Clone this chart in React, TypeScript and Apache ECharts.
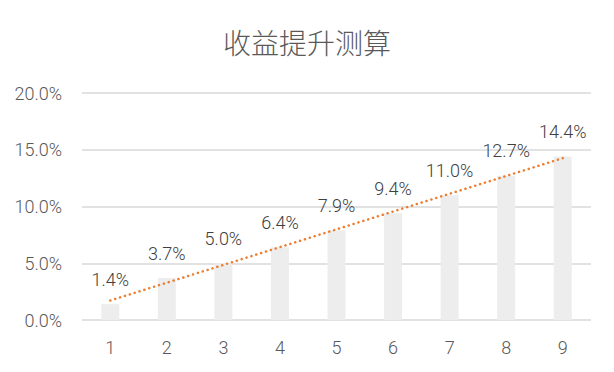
import React, { useEffect, useRef } from "react";
import * as echarts from "echarts";

const title = "收益提升测算";
const categories = ["1", "2", "3", "4", "5", "6", "7", "8", "9"];
const values = [1.4, 3.7, 5.0, 6.4, 7.9, 9.4, 11.0, 12.7, 14.4];
// linear trendline end points
const trendStart = 1.72;
const trendEnd = 14.26;
const yTicks = [0, 5, 10, 15, 20];

export default function App() {
  const ref = useRef<HTMLDivElement>(null);
  useEffect(() => {
    document.body.style.margin = "0";
    const chart = echarts.init(ref.current!, null, { renderer: "svg" });
    const trend = categories.map((_, i) =>
      i === 0 ? trendStart : i === categories.length - 1 ? trendEnd : null
    );
    chart.setOption({
      animation: false,
      backgroundColor: "#ffffff",
      title: {
        text: title,
        left: "center",
        top: 23,
        textStyle: {
          fontFamily: "Noto Sans CJK SC",
          fontSize: 28,
          fontWeight: 300,
          color: "#595959",
        },
      },
      grid: { left: 82, right: 23, top: 93, bottom: 52 },
      xAxis: {
        type: "category",
        data: categories,
        axisLine: { show: false },
        axisTick: { show: false },
        axisLabel: {
          color: "#595959",
          fontSize: 18,
          fontWeight: 300,
          fontFamily: "Roboto",
          margin: 18,
        },
      },
      yAxis: {
        type: "value",
        min: yTicks[0],
        max: yTicks[yTicks.length - 1],
        interval: 5,
        axisLine: { show: false },
        axisTick: { show: false },
        splitLine: { lineStyle: { color: "#d9d9d9", width: 1.5 } },
        axisLabel: {
          color: "#595959",
          fontSize: 18,
          fontWeight: 300,
          fontFamily: "Roboto",
          margin: 20,
          formatter: (v: number) => v.toFixed(1) + "%",
        },
      },
      series: [
        {
          type: "bar",
          data: values,
          barWidth: 18,
          itemStyle: { color: "#ededed" },
          label: {
            show: true,
            position: "top",
            distance: 16,
            color: "#404040",
            fontSize: 18,
            fontWeight: 300,
            fontFamily: "Roboto",
            formatter: (p: any) => p.value.toFixed(1) + "%",
          },
        },
        {
          type: "line",
          data: trend,
          connectNulls: true,
          symbol: "none",
          lineStyle: {
            color: "#ED7D31",
            width: 2.5,
            type: [0.1, 5],
            cap: "round",
          },
          z: 5,
        },
      ],
    });
    return () => chart.dispose();
  }, []);
  return <div ref={ref} style={{ width: 614, height: 372 }} />;
}
